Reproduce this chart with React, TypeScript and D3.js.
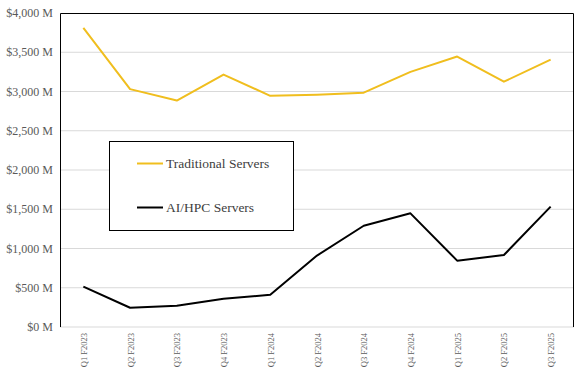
import React from "react";
import * as d3 from "d3";

const categories = ["Q1 F2023", "Q2 F2023", "Q3 F2023", "Q4 F2023", "Q1 F2024", "Q2 F2024", "Q3 F2024", "Q4 F2024", "Q1 F2025", "Q2 F2025", "Q3 F2025"];
const traditional = [3810, 3030, 2885, 3215, 2945, 2960, 2985, 3250, 3445, 3125, 3405];
const aiHpc = [515, 245, 272, 360, 410, 910, 1290, 1448, 845, 917, 1533];
const yTicks = [0, 500, 1000, 1500, 2000, 2500, 3000, 3500, 4000];
const seriesNames = ["Traditional Servers", "AI/HPC Servers"];
const seriesColors = ["#F0BE1E", "#000000"];

export default function App() {
  const W = 586, H = 380;
  const left = 60, right = 574, top = 13, bottom = 327;
  const x = d3.scaleBand().domain(categories).range([left, right]);
  const y = d3.scaleLinear().domain([0, 4000]).range([bottom, top]);
  const line = d3.line<number>().x((_, i) => (x(categories[i]) as number) + x.bandwidth() / 2).y((d) => y(d));
  const series = [traditional, aiHpc];
  const fmt = (v: number) => "$" + d3.format(",")(v) + " M";
  return (
    <svg width={W} height={H} style={{ position: "absolute", left: 0, top: 0, background: "#fff" }}>
      {yTicks.map((t) => (
        <g key={t}>
          {t > 0 && t < 4000 && <line x1={left} x2={right} y1={y(t)} y2={y(t)} stroke="#D9D9D9" strokeWidth={1} />}
          <text x={53} y={y(t) + 4} textAnchor="end" fontFamily="Liberation Serif" fontSize={12} fill="#595959">{fmt(t)}</text>
        </g>
      ))}
      <line x1={left} x2={right} y1={bottom} y2={bottom} stroke="#D9D9D9" strokeWidth={1} />
      <path d={`M${left + 0.5},${bottom}V${top + 0.5}H${right - 0.5}V${bottom}`} fill="none" stroke="#000" strokeWidth={1} />
      {categories.map((c) => {
        const cx = (x(c) as number) + x.bandwidth() / 2 + 3.5;
        return (
          <text key={c} transform={`translate(${cx},333) rotate(-90)`} textAnchor="end" fontFamily="Liberation Serif" fontSize={8.5} fill="#595959">{c}</text>
        );
      })}
      {series.map((s, i) => (
        <path key={i} d={line(s) as string} fill="none" stroke={seriesColors[i]} strokeWidth={2} strokeLinejoin="round" />
      ))}
      <rect x={109.5} y={141.5} width={184} height={89} fill="#fff" stroke="#000" strokeWidth={1} />
      {seriesNames.map((n, i) => {
        const ly = i === 0 ? 163.5 : 207.5;
        return (
          <g key={n}>
            <line x1={137} x2={163} y1={ly} y2={ly} stroke={seriesColors[i]} strokeWidth={2} />
            <text x={166} y={ly + 4} fontFamily="Liberation Serif" fontSize={13.5} fill="#404040">{n}</text>
          </g>
        );
      })}
    </svg>
  );
}
